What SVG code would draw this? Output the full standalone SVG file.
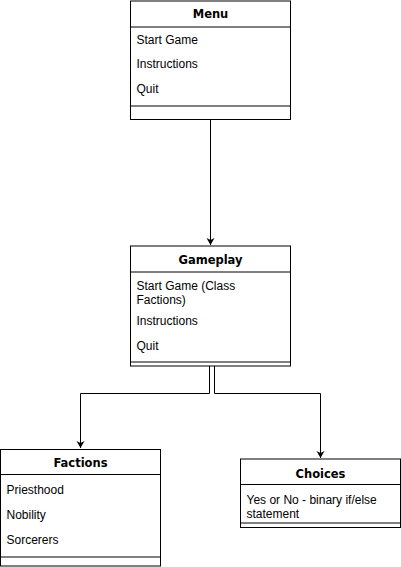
<svg xmlns="http://www.w3.org/2000/svg" width="401" height="567" viewBox="0 0 401 567">
<style>
.box{fill:#fff;stroke:#000;stroke-width:1}
.ln{stroke:#000;stroke-width:1;fill:none}
.t{font-family:"Liberation Sans",Arial,sans-serif;font-size:12px;fill:#000}
.h{font-family:"DejaVu Sans",Verdana,sans-serif;font-size:11.5px;font-weight:bold;fill:#000;text-anchor:middle}
</style>
<defs>
<marker id="arr" markerWidth="8" markerHeight="10" refX="7" refY="4" orient="auto" markerUnits="userSpaceOnUse" viewBox="0 0 8 8">
<path d="M0,0 L7,4 L0,8 L2,4 Z" fill="#000"/>
</marker>
</defs>
<rect width="401" height="567" fill="#fff"/>
<g id="connectors">
<path class="ln" d="M210.5,106 L210.5,245" marker-end="url(#arr)"/>
<path class="ln" d="M209.5,362 L209.5,393.5 L80.5,393.5 L80.5,448" marker-end="url(#arr)"/>
<path class="ln" d="M214.5,362 L214.5,393.5 L320.5,393.5 L320.5,458" marker-end="url(#arr)"/>
</g>
<g id="menu">
<rect class="box" x="130.5" y="1" width="160" height="118.5"/>
<line class="ln" x1="130.5" y1="27" x2="290.5" y2="27"/>
<line class="ln" x1="130.5" y1="106" x2="290.5" y2="106"/>
<text class="h" x="210.5" y="18.3">Menu</text>
<text class="t" x="136.5" y="44">Start Game</text>
<text class="t" x="136.5" y="68">Instructions</text>
<text class="t" x="136.5" y="93">Quit</text>
</g>
<g id="gameplay">
<rect class="box" x="130.5" y="246" width="160" height="120"/>
<line class="ln" x1="130.5" y1="272" x2="290.5" y2="272"/>
<line class="ln" x1="130.5" y1="362" x2="290.5" y2="362"/>
<text class="h" x="210.5" y="264">Gameplay</text>
<text class="t" x="136.5" y="290">Start Game (Class</text>
<text class="t" x="136.5" y="304">Factions)</text>
<text class="t" x="136.5" y="324.5">Instructions</text>
<text class="t" x="136.5" y="350">Quit</text>
</g>
<g id="factions">
<rect class="box" x="0.5" y="449.5" width="160" height="116.5"/>
<line class="ln" x1="0.5" y1="474.5" x2="160.5" y2="474.5"/>
<line class="ln" x1="0.5" y1="557" x2="160.5" y2="557"/>
<text class="h" x="80.5" y="467">Factions</text>
<text class="t" x="6.5" y="494">Priesthood</text>
<text class="t" x="6.5" y="519">Nobility</text>
<text class="t" x="6.5" y="543.5">Sorcerers</text>
</g>
<g id="choices">
<rect class="box" x="240.5" y="459" width="160" height="68.5"/>
<line class="ln" x1="240.5" y1="484.5" x2="400.5" y2="484.5"/>
<line class="ln" x1="240.5" y1="523" x2="400.5" y2="523"/>
<text class="h" x="320.5" y="478">Choices</text>
<text class="t" x="246.5" y="504">Yes or No - binary if/else</text>
<text class="t" x="246.5" y="518">statement</text>
</g>
</svg>
